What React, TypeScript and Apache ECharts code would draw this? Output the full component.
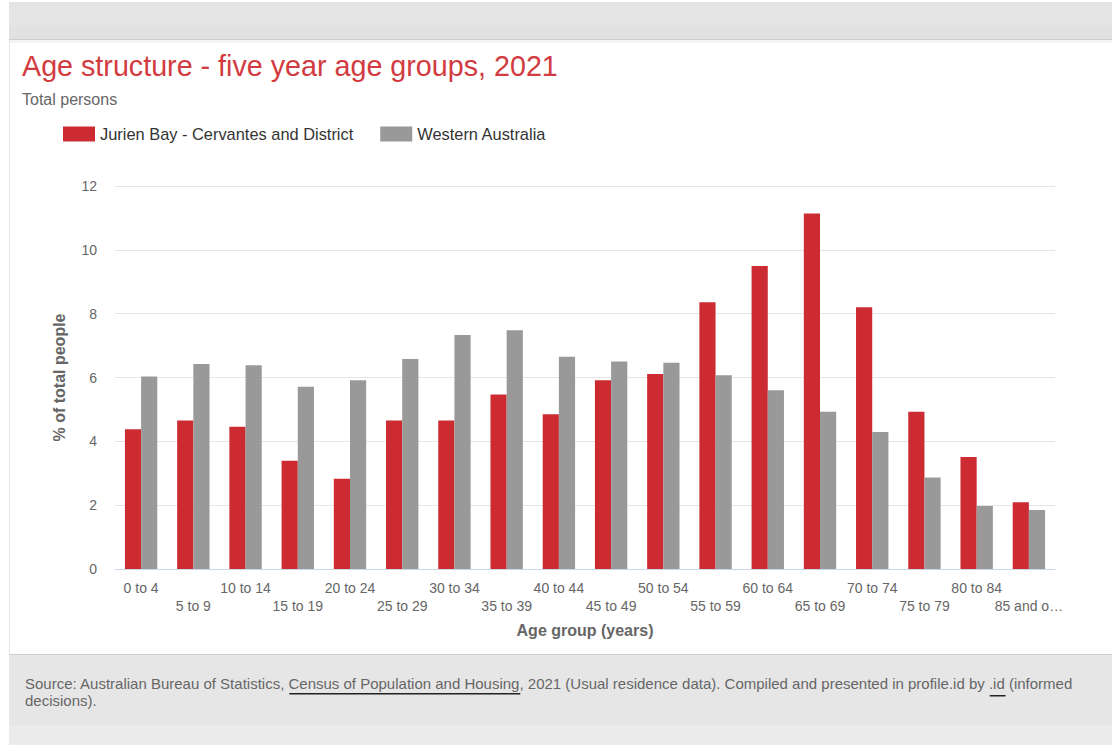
import React, { useEffect, useRef } from "react";
import * as echarts from "echarts";

const categories = [
  "0 to 4", "5 to 9", "10 to 14", "15 to 19", "20 to 24", "25 to 29",
  "30 to 34", "35 to 39", "40 to 44", "45 to 49", "50 to 54", "55 to 59",
  "60 to 64", "65 to 69", "70 to 74", "75 to 79", "80 to 84", "85 and over",
];
const jurienBay = [
  4.38, 4.65, 4.46, 3.39, 2.83, 4.65, 4.65, 5.47, 4.85, 5.91, 6.11, 8.36,
  9.49, 11.14, 8.2, 4.93, 3.51, 2.09,
];
const westernAustralia = [
  6.03, 6.42, 6.38, 5.71, 5.91, 6.58, 7.33, 7.48, 6.65, 6.5, 6.46, 6.07,
  5.6, 4.93, 4.29, 2.87, 1.97, 1.85,
];
const seriesNames = ["Jurien Bay - Cervantes and District", "Western Australia"];
const yTicks = { min: 0, max: 12, interval: 2 };

const FONT = 'Arial, "Liberation Sans", sans-serif';
const footerPre = "Source: Australian Bureau of Statistics, ";
const footerLink1 = "Census of Population and Housing";
const footerMid = ", 2021 (Usual residence data). Compiled and presented in profile.id by ";
const footerLink2 = ".id";
const footerPost = " (informed";
const footerLine2 = "decisions).";

function measure(text: string, size: number): number {
  const c = document.createElement("canvas").getContext("2d");
  if (!c) return text.length * size * 0.5;
  c.font = `${size}px ${FONT}`;
  return c.measureText(text).width;
}

export default function App() {
  const ref = useRef<HTMLDivElement>(null);
  useEffect(() => {
    if (!ref.current) return;
    const chart = echarts.init(ref.current, undefined, { renderer: "svg" });
    const fs = 15;
    const fx = 25;
    const l1x = fx + measure(footerPre, fs);
    const l1w = measure(footerLink1, fs);
    const l2x = fx + measure(footerPre + footerLink1 + footerMid, fs);
    const l2w = measure(footerLink2, fs);
    chart.setOption({
      animation: false,
      textStyle: { fontFamily: FONT },
      title: [
        {
          text: "Age structure - five year age groups, 2021",
          left: 17,
          top: 46,
          textStyle: { color: "#d23b40", fontSize: 28.7, fontWeight: "normal", fontFamily: FONT },
        },
        {
          text: "Total persons",
          left: 17,
          top: 86,
          textStyle: { color: "#666666", fontSize: 16, fontWeight: "normal", fontFamily: FONT },
        },
      ],
      legend: {
        left: 58,
        top: 121,
        itemWidth: 32,
        itemHeight: 15,
        itemGap: 27,
        icon: "rect",
        textStyle: { color: "#333333", fontSize: 16.4, fontFamily: FONT },
        data: seriesNames,
      },
      grid: { left: 115, right: 57, top: 186, bottom: 176, containLabel: false },
      xAxis: {
        type: "category",
        data: categories,
        name: "Age group (years)",
        nameLocation: "middle",
        nameGap: 53,
        nameTextStyle: { color: "#666666", fontSize: 16, fontWeight: "bold", fontFamily: FONT },
        axisLine: { lineStyle: { color: "#ccd6eb" } },
        axisTick: { alignWithLabel: true, length: 10, lineStyle: { color: "#ccd6eb" } },
        axisLabel: {
          interval: 0,
          color: "#666666",
          fontSize: 14,
          lineHeight: 18,
          margin: 10,
          formatter: (v: string, i: number) => {
            const t = v.length > 10 ? v.slice(0, 8) + "…" : v;
            return i % 2 === 1 ? "\n" + t : t;
          },
        },
      },
      yAxis: {
        type: "value",
        min: yTicks.min,
        max: yTicks.max,
        interval: yTicks.interval,
        name: "% of total people",
        nameLocation: "middle",
        nameRotate: 90,
        nameGap: 48,
        nameTextStyle: { color: "#666666", fontSize: 16, fontWeight: "bold", fontFamily: FONT },
        axisLabel: { color: "#666666", fontSize: 14, margin: 18 },
        splitLine: { lineStyle: { color: "#e6e6e6" } },
        axisLine: { show: false },
        axisTick: { show: false },
      },
      series: [
        {
          name: seriesNames[0],
          type: "bar",
          data: jurienBay,
          barGap: "0%",
          barCategoryGap: "38%",
          itemStyle: { color: "#cc2c31" },
        },
        {
          name: seriesNames[1],
          type: "bar",
          data: westernAustralia,
          itemStyle: { color: "#999999" },
        },
      ],
      graphic: [
        { type: "rect", z: -10, shape: { x: 9, y: 2, width: 1103, height: 25 }, style: { fill: "#e4e4e4" } },
        { type: "rect", z: -10, shape: { x: 9, y: 27, width: 1103, height: 12 }, style: { fill: "#e1e1e1" } },
        { type: "rect", z: -10, shape: { x: 9, y: 39, width: 1103, height: 1 }, style: { fill: "#cccccc" } },
        { type: "rect", z: -10, shape: { x: 9, y: 40, width: 1103, height: 3 }, style: { fill: "#f4f4f4" } },
        { type: "rect", z: -10, shape: { x: 9, y: 40, width: 1, height: 615 }, style: { fill: "#e6e6e6" } },
        { type: "rect", z: -10, shape: { x: 9, y: 654, width: 1103, height: 1 }, style: { fill: "#cccccc" } },
        { type: "rect", z: -10, shape: { x: 9, y: 655, width: 1103, height: 70 }, style: { fill: "#e6e6e6" } },
        { type: "rect", z: -10, shape: { x: 9, y: 725, width: 1103, height: 20 }, style: { fill: "#ebebeb" } },
        {
          type: "text",
          z: 100,
          x: fx,
          y: 675,
          style: {
            text: footerPre + footerLink1 + footerMid + footerLink2 + footerPost + "\n" + footerLine2,
            font: `${fs}px ${FONT}`,
            fill: "#666666",
            lineHeight: 17,
          },
        },
        { type: "rect", z: 100, shape: { x: l1x, y: 693, width: l1w, height: 1.5 }, style: { fill: "#222222" } },
        { type: "rect", z: 100, shape: { x: l2x, y: 695, width: l2w, height: 1.5 }, style: { fill: "#222222" } },
      ],
    });
    return () => chart.dispose();
  }, []);
  return (
    <div
      ref={ref}
      style={{ position: "fixed", left: 0, top: 0, width: 1112, height: 745, background: "#ffffff" }}
    />
  );
}
